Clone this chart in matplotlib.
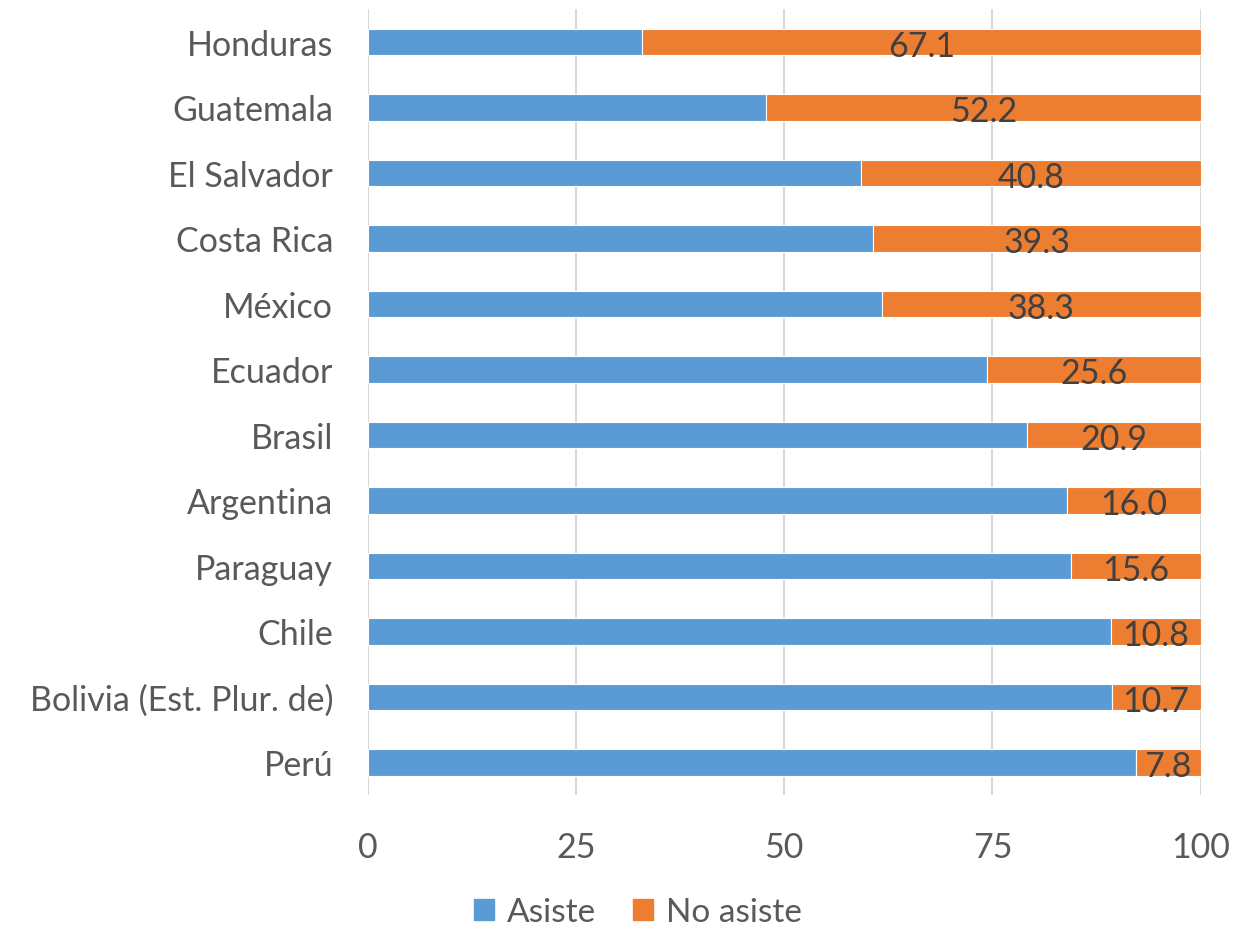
import matplotlib.pyplot as plt
from matplotlib.patches import Patch

plt.rcParams['font.family'] = ['Lato', 'DejaVu Sans']

paises = ["Honduras", "Guatemala", "El Salvador", "Costa Rica", "México", "Ecuador",
          "Brasil", "Argentina", "Paraguay", "Chile", "Bolivia (Est. Plur. de)", "Perú"]
asiste = [32.9, 47.8, 59.2, 60.7, 61.7, 74.4, 79.1, 84.0, 84.4, 89.2, 89.3, 92.2]
no_asiste = [67.1, 52.2, 40.8, 39.3, 38.3, 25.6, 20.9, 16.0, 15.6, 10.8, 10.7, 7.8]

azul = "#5B9BD5"
naranja = "#ED7D31"
gris = "#595959"

fig = plt.figure(figsize=(12.34, 9.28), dpi=100)
ax = fig.add_axes([0.298, 0.142, 0.675, 0.847])

y = list(range(len(paises)))
ax.barh(y, asiste, height=0.4, color=azul, edgecolor="white", linewidth=0.8, zorder=2)
ax.barh(y, no_asiste, left=asiste, height=0.4, color=naranja, edgecolor="white",
        linewidth=0.8, zorder=2)

for yi, a, n in zip(y, asiste, no_asiste):
    ax.text(a + n / 2, yi + 0.06, f"{n:.1f}", ha="center", va="center",
            fontsize=24.5, color="#404040", zorder=3)

ax.set_ylim(len(paises) - 0.5, -0.5)
ax.set_xlim(0, 100)
ax.set_xticks([0, 25, 50, 75, 100])
ax.set_yticks(y)
ax.set_yticklabels(paises)
ax.tick_params(axis="both", length=0, labelsize=24.5, labelcolor=gris)
ax.tick_params(axis="x", pad=26)
ax.tick_params(axis="y", pad=25)
ax.xaxis.grid(True, color="#D9D9D9", linewidth=1.5, zorder=0)
for s in ax.spines.values():
    s.set_visible(False)

handles = [Patch(color=azul, label="Asiste"), Patch(color=naranja, label="No asiste")]
fig.legend(handles=handles, loc="center", bbox_to_anchor=(0.517, 0.016), ncol=2,
           frameon=False, fontsize=24, labelcolor=gris, handlelength=0.6,
           handleheight=0.6, handletextpad=0.4, columnspacing=1.1)

fig.savefig("out.png", dpi=100)
